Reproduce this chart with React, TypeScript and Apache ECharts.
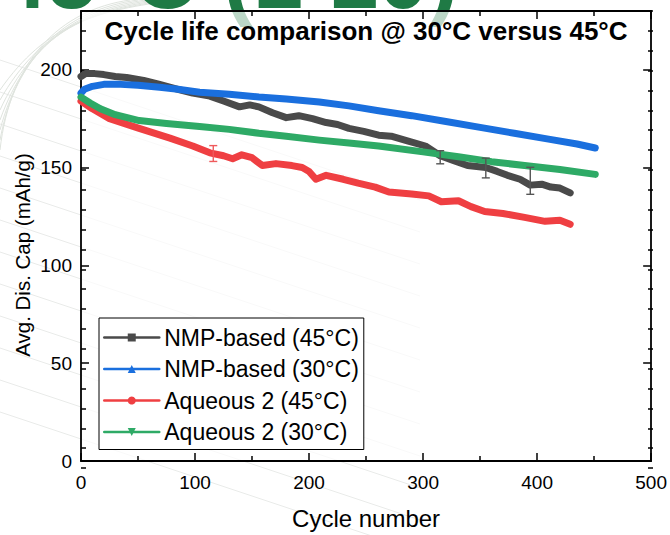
import React, { useEffect, useRef } from 'react';
import * as echarts from 'echarts';

const FONT = "'Liberation Sans', Arial, sans-serif";

const seriesNames = ['NMP-based (45°C)', 'NMP-based (30°C)', 'Aqueous 2 (45°C)', 'Aqueous 2 (30°C)'];
const seriesColors = ['#4a4a4a', '#1a6fde', '#ef3f42', '#2eaa66'];
const seriesSymbols = ['rect', 'triangle', 'circle', 'triangle'];
const seriesRotate = [0, 0, 0, 180];

const nmp45: number[][] = [
  [0, 196.5], [4, 198], [12, 198], [20, 197.5], [30, 196.5], [40, 196], [55, 194.5], [69, 192.5],
  [85, 190], [98, 188], [113, 186.5], [125, 184], [139, 181], [148, 182], [156, 181], [168, 178],
  [180, 175.5], [191, 176.5], [203, 175], [215, 173], [225, 172], [235, 170], [248, 168.5],
  [261, 166.5], [272, 166], [287, 163.5], [302, 161], [315, 156], [327, 153.5], [339, 151],
  [355, 150], [365, 148], [374, 146], [385, 144], [394, 141], [404, 141.5], [412, 140], [420, 139.5], [429, 137],
];

const nmp30: number[][] = [
  [0, 188], [3, 190], [10, 191.5], [20, 192.5], [35, 192.5], [50, 192], [69, 191], [85, 190],
  [104, 188.5], [130, 187.5], [156, 186], [180, 185], [209, 183.5], [235, 181.5], [261, 179],
  [290, 176.5], [320, 173.5], [350, 170.5], [380, 167.5], [410, 164.5], [435, 162], [451, 160],
];

const aq45: number[][] = [
  [0, 184], [10, 180], [25, 175], [51, 170], [78, 165], [98, 161], [113, 157.5], [125, 156],
  [133, 154.5], [141, 156.5], [150, 155], [159, 151], [171, 152], [185, 151], [194, 150], [200, 148],
  [206, 144], [215, 146], [230, 144], [243, 142], [258, 140], [270, 137.5], [290, 136.5], [305, 135.5],
  [316, 132.5], [331, 133], [342, 130], [354, 127.5], [370, 126.5], [389, 124.5], [407, 122.5], [420, 123], [429, 121],
];

const aq30: number[][] = [
  [0, 186], [8, 183], [17, 180], [30, 177], [51, 174], [75, 172.5], [104, 171], [130, 169.5],
  [156, 167.5], [180, 166], [209, 164], [235, 162.5], [261, 161], [300, 158], [331, 155.5],
  [360, 153], [389, 151], [420, 149], [451, 146.5],
];

// [cycle, low, high]
const errNmp45: number[][] = [[315, 151.9, 158.6], [355, 144.7, 154.8], [394, 136.3, 150.1]];
const errAq45: number[][] = [[116, 153.1, 161.2]];

const xTicks = { min: 0, max: 500, interval: 100 };
const yTicks = { min: 0, max: 230, interval: 50, minorInterval: 10 };

const seriesData = [nmp45, nmp30, aq45, aq30];

function errorSeries(name: string, data: number[][], color: string) {
  return {
    type: 'custom',
    name,
    xAxisIndex: 0,
    yAxisIndex: 0,
    data,
    z: 4,
    renderItem: (_params: any, api: any) => {
      const x = api.value(0);
      const lo = api.coord([x, api.value(1)]);
      const hi = api.coord([x, api.value(2)]);
      const w = 4;
      const style = { stroke: color, lineWidth: 1.4 };
      return {
        type: 'group',
        children: [
          { type: 'line', shape: { x1: lo[0], y1: lo[1], x2: hi[0], y2: hi[1] }, style },
          { type: 'line', shape: { x1: lo[0] - w, y1: lo[1], x2: lo[0] + w, y2: lo[1] }, style },
          { type: 'line', shape: { x1: hi[0] - w, y1: hi[1], x2: hi[0] + w, y2: hi[1] }, style },
        ],
      };
    },
  };
}

export default function App() {
  const ref = useRef<HTMLDivElement>(null);
  useEffect(() => {
    const chart = echarts.init(ref.current!, null, { renderer: 'svg' });
    const axisLineStyle = { color: '#000', width: 1.8 };
    const tickStyle = { color: '#000', width: 1.5 };

    const decoLines: any[] = [];
    for (let i = 0; i < 12; i++) {
      const y0 = 60 + i * 32;
      decoLines.push({
        type: 'line', z: -10,
        shape: { x1: 0, y1: y0, x2: 420, y2: y0 + 140 },
        style: { stroke: '#e9ebe9', lineWidth: 1 },
      });
    }
    for (let i = 0; i < 7; i++) {
      decoLines.push({
        type: 'bezierCurve', z: -10,
        shape: { x1: 0, y1: 150 - i * 10, cpx1: 10 + i * 6, cpy1: 60 - i * 6, x2: 130 + i * 8, y2: 0, cpx2: 60 + i * 6, cpy2: 10 },
        style: { stroke: '#dfe4de', lineWidth: 1, fill: null },
      });
    }

    const option: any = {
      animation: false,
      backgroundColor: '#fff',
      textStyle: { fontFamily: FONT },
      grid: [
        { left: 81, right: 17, top: 11, bottom: 67, show: true, backgroundColor: 'rgba(255,255,255,0.7)', borderWidth: 0, z: 0 },
        { left: 81, right: 17, top: 11, bottom: 67 },
      ],
      graphic: [
        ...decoLines,
        {
          type: 'text', z: -5, x: -3, y: 21.5,
          style: { text: '45°C (1 10)', fontSize: 90, fontWeight: 'bold', fontFamily: FONT, fill: '#1f7a45', textVerticalAlign: 'bottom' },
        },
        {
          type: 'text', z: 10, x: 366, y: 31,
          style: { text: 'Cycle life comparison @ 30°C versus 45°C', fontSize: 26, fontWeight: 'bold', fontFamily: FONT, fill: '#000', textAlign: 'center', textVerticalAlign: 'middle' },
        },
        {
          type: 'text', z: 10, x: 22, y: 255, rotation: Math.PI / 2,
          style: { text: 'Avg. Dis. Cap (mAh/g)', fontSize: 20.5, fontFamily: FONT, fill: '#000', textAlign: 'center', textVerticalAlign: 'middle' },
        },
      ],
      legend: {
        left: 99, top: 318, orient: 'vertical',
        data: seriesNames,
        itemWidth: 55, itemHeight: 10, itemGap: 8.5,
        padding: [8, 5, 6, 4],
        borderColor: '#000', borderWidth: 1, backgroundColor: '#fff',
        textStyle: { fontSize: 23, color: '#000', fontFamily: FONT },
        lineStyle: { width: 2.5 },
      },
      xAxis: [
        {
          type: 'value', gridIndex: 0, position: 'bottom', ...xTicks,
          name: 'Cycle number', nameLocation: 'middle', nameGap: 45,
          nameTextStyle: { fontSize: 24, color: '#000', fontFamily: FONT },
          axisLine: { show: true, onZero: false, lineStyle: axisLineStyle },
          axisTick: { show: true, inside: true, length: 8, lineStyle: tickStyle },
          minorTick: { show: true, splitNumber: 2, length: 5, lineStyle: tickStyle },
          axisLabel: { fontSize: 19, color: '#000', margin: 12, fontFamily: FONT },
          splitLine: { show: false },
        },
        {
          type: 'value', gridIndex: 0, position: 'top', ...xTicks,
          axisLine: { show: true, onZero: false, lineStyle: axisLineStyle },
          axisTick: { show: true, inside: true, length: 8, lineStyle: tickStyle },
          minorTick: { show: true, splitNumber: 2, length: 5, lineStyle: tickStyle },
          axisLabel: { show: false },
          splitLine: { show: false },
        },
        { type: 'value', gridIndex: 1, ...xTicks, show: false },
      ],
      yAxis: [
        {
          type: 'value', gridIndex: 0, position: 'left', min: yTicks.min, max: yTicks.max, interval: yTicks.interval,
          axisLine: { show: true, onZero: false, lineStyle: axisLineStyle },
          axisTick: { show: true, inside: true, length: 8, lineStyle: tickStyle },
          axisLabel: { fontSize: 19, color: '#000', margin: 9, fontFamily: FONT, showMaxLabel: false },
          splitLine: { show: false },
        },
        {
          type: 'value', gridIndex: 0, position: 'right', min: yTicks.min, max: yTicks.max, interval: yTicks.interval,
          axisLine: { show: true, onZero: false, lineStyle: axisLineStyle },
          axisTick: { show: true, inside: true, length: 8, lineStyle: tickStyle },
          axisLabel: { show: false },
          splitLine: { show: false },
        },
        {
          type: 'value', gridIndex: 1, position: 'left', min: yTicks.min, max: yTicks.max, interval: yTicks.minorInterval,
          axisLine: { show: false },
          axisTick: { show: true, inside: true, length: 5, lineStyle: tickStyle },
          axisLabel: { show: false },
          splitLine: { show: false },
        },
        {
          type: 'value', gridIndex: 1, position: 'right', min: yTicks.min, max: yTicks.max, interval: yTicks.minorInterval,
          axisLine: { show: false },
          axisTick: { show: true, inside: true, length: 5, lineStyle: tickStyle },
          axisLabel: { show: false },
          splitLine: { show: false },
        },
      ],
      series: [
        ...seriesNames.map((name, i) => ({
          type: 'line',
          name,
          xAxisIndex: 0,
          yAxisIndex: 0,
          data: seriesData[i],
          symbol: seriesSymbols[i],
          symbolRotate: seriesRotate[i],
          showSymbol: false,
          color: seriesColors[i],
          lineStyle: { width: 7, color: seriesColors[i], join: 'round', cap: 'round' },
          itemStyle: { color: seriesColors[i] },
          z: 3,
        })),
        errorSeries('err-nmp45', errNmp45, '#555555'),
        errorSeries('err-aq45', errAq45, '#ef5a5c'),
      ],
    };
    chart.setOption(option);
    return () => chart.dispose();
  }, []);
  return <div ref={ref} style={{ position: 'fixed', left: 0, top: 0, width: 670, height: 535 }} />;
}
